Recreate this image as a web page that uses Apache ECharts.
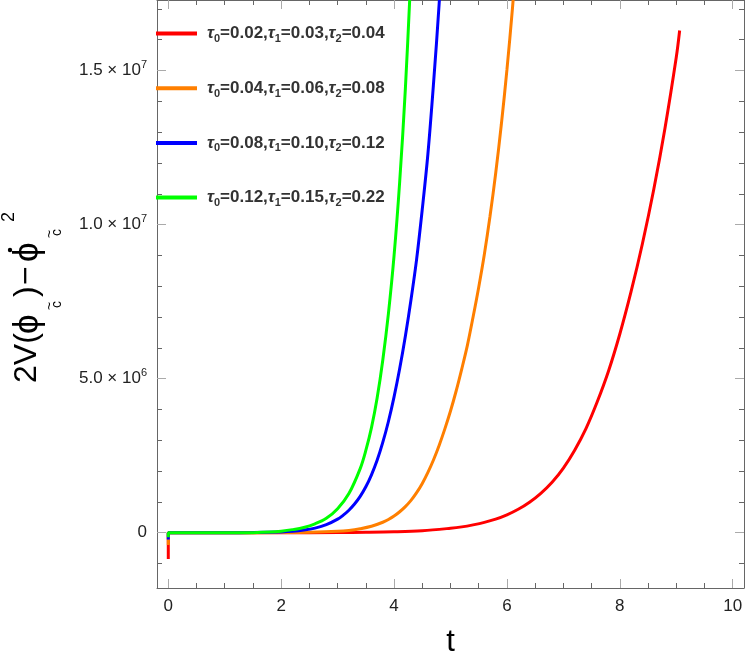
<!DOCTYPE html>
<html>
<head>
<meta charset="utf-8">
<script src="https://cdn.jsdelivr.net/npm/echarts@6/dist/echarts.min.js"></script>
<style>
html,body{margin:0;padding:0;background:#fff;}
#chart{width:747px;height:655px;}
</style>
</head>
<body>
<div id="chart"></div>
<script>
// ---------- data ----------
const tau0 = ['0.02', '0.04', '0.08', '0.12'];
const tau1 = ['0.03', '0.06', '0.10', '0.15'];
const tau2 = ['0.04', '0.08', '0.12', '0.22'];
const seriesColors = ['#ff0000', '#ff7f00', '#0000ff', '#00ff00'];

const redT = [0, 0, 0.02, 1, 2, 3, 3.5, 4, 4.5, 5, 5.2, 5.4, 5.6, 5.8, 6.0, 6.2, 6.4, 6.6, 6.8, 7.0, 7.2, 7.4, 7.6, 7.8, 8.0, 8.2, 8.4, 8.6, 8.8, 9.0, 9.06];
const redV = [-0.85e6, 0, 0, 0, 0.001e6, 0.006e6, 0.014e6, 0.03e6, 0.065e6, 0.145e6, 0.19e6, 0.255e6, 0.335e6, 0.44e6, 0.58e6, 0.76e6, 0.99e6, 1.28e6, 1.64e6, 2.1e6, 2.68e6, 3.38e6, 4.25e6, 5.25e6, 6.45e6, 7.83e6, 9.38e6, 11.13e6, 13.13e6, 15.43e6, 16.3e6];

const orangeT = [0, 0, 0.02, 1, 2, 2.5, 3, 3.2, 3.4, 3.6, 3.8, 3.9, 4.0, 4.1, 4.2, 4.3, 4.4, 4.5, 4.6, 4.7, 4.8, 4.9, 5.0, 5.1, 5.2, 5.3, 5.4, 5.5, 5.6, 5.7, 5.8, 5.9, 6.0, 6.1, 6.2];
const orangeV = [-0.4e6, 0, 0, 0, 0.004e6, 0.015e6, 0.045e6, 0.075e6, 0.13e6, 0.21e6, 0.34e6, 0.43e6, 0.54e6, 0.68e6, 0.846e6, 1.05e6, 1.3e6, 1.6e6, 1.96e6, 2.37e6, 2.84e6, 3.37e6, 3.95e6, 4.6e6, 5.32e6, 6.09e6, 7.0e6, 7.97e6, 9.04e6, 10.27e6, 11.66e6, 13.24e6, 15.03e6, 17.07e6, 19.4e6];

const blueT = [0, 0, 0.02, 1, 1.5, 2.0, 2.2, 2.4, 2.6, 2.8, 3.0, 3.1, 3.2, 3.3, 3.4, 3.5, 3.6, 3.7, 3.8, 3.9, 4.0, 4.1, 4.2, 4.3, 4.4, 4.5, 4.6, 4.7, 4.8, 4.9];
const blueV = [-0.22e6, 0, 0, 0, 0.005e6, 0.025e6, 0.045e6, 0.085e6, 0.15e6, 0.26e6, 0.44e6, 0.57e6, 0.73e6, 0.93e6, 1.18e6, 1.49e6, 1.88e6, 2.35e6, 2.93e6, 3.61e6, 4.41e6, 5.33e6, 6.38e6, 7.56e6, 8.88e6, 10.5e6, 12.3e6, 14.6e6, 17.2e6, 20.3e6];

const greenT = [0, 0, 0.02, 1, 1.5, 1.8, 2.0, 2.2, 2.4, 2.6, 2.8, 3.0, 3.2, 3.4, 3.5, 3.6, 3.7, 3.8, 3.9, 4.0, 4.1, 4.2, 4.3];
const greenV = [-0.15e6, 0, 0, 0, 0.003e6, 0.02e6, 0.05e6, 0.1e6, 0.17e6, 0.29e6, 0.47e6, 0.78e6, 1.27e6, 2.08e6, 2.67e6, 3.41e6, 4.37e6, 5.6e6, 7.11e6, 8.99e6, 11.4e6, 14.4e6, 18.2e6];

const xMajorTicks = [0, 2, 4, 6, 8, 10];
const xMinorTicks = [0.5, 1, 1.5, 2.5, 3, 3.5, 4.5, 5, 5.5, 6.5, 7, 7.5, 8.5, 9, 9.5];
const yMajorTicks = [0, 5e6, 1e7, 1.5e7];
const yMinorTicks = [-1e6, 1e6, 2e6, 3e6, 4e6, 6e6, 7e6, 8e6, 9e6, 11e6, 12e6, 13e6, 14e6, 16e6, 17e6];
const X_MIN = -0.2, X_MAX = 10.2;
const Y_MIN = -1.794e6, Y_MAX = 1.729e7;

// ---------- chart ----------
const FONT = '"Liberation Sans", Arial, "DejaVu Sans", sans-serif';
const zip = (a, b) => a.map((v, i) => [v, b[i]]);
const seriesT = [redT, orangeT, blueT, greenT];
const seriesV = [redV, orangeV, blueV, greenV];
const names = tau0.map((_, i) => 'τ0=' + tau0[i] + ',τ1=' + tau1[i] + ',τ2=' + tau2[i]);

function yLabel(v) {
  if (v === 0) return '{n|0}';
  const e = Math.floor(Math.log10(Math.abs(v)) + 1e-9);
  const m = (v / Math.pow(10, e)).toFixed(1);
  return '{n|' + m + ' × 10}{s|' + e + '}';
}

const frameColor = '#666';
const majorTickColor = '#aaa';
const minorTickColor = '#666';

function xAxisDef(pos, major, withLabel) {
  return {
    type: 'value', min: X_MIN, max: X_MAX, position: pos,
    axisLine: { show: major, onZero: false, lineStyle: { color: frameColor, width: 1 } },
    axisTick: { show: true, inside: true, length: major ? 9 : 5,
      customValues: major ? xMajorTicks : xMinorTicks,
      lineStyle: { color: major ? majorTickColor : minorTickColor, width: 1 } },
    axisLabel: withLabel ? { show: true, customValues: xMajorTicks, fontSize: 17, color: '#222',
      fontFamily: FONT, margin: 10 } : { show: false },
    splitLine: { show: false },
    name: withLabel ? 't' : '',
    nameLocation: 'middle', nameGap: 39,
    nameTextStyle: { fontSize: 31, color: '#000', fontFamily: FONT }
  };
}
function yAxisDef(pos, major, withLabel) {
  return {
    type: 'value', min: Y_MIN, max: Y_MAX, position: pos,
    axisLine: { show: major, onZero: false, lineStyle: { color: frameColor, width: 1 } },
    axisTick: { show: true, inside: true, length: major ? 9 : 5,
      customValues: major ? yMajorTicks : yMinorTicks,
      lineStyle: { color: major ? majorTickColor : minorTickColor, width: 1 } },
    axisLabel: withLabel ? { show: true, customValues: yMajorTicks, formatter: yLabel, margin: 10,
      rich: {
        n: { fontSize: 17, color: '#222', fontFamily: FONT, lineHeight: 22 },
        s: { fontSize: 11, color: '#222', fontFamily: FONT, lineHeight: 12, verticalAlign: 'top' }
      } } : { show: false },
    splitLine: { show: false }
  };
}

const legendRichBase = { fontSize: 17, fontWeight: 'bold', color: '#333', fontFamily: FONT, lineHeight: 22 };

const titleFont = (s) => 'normal ' + s + 'px ' + FONT;
function tx(text, lx, ly, size) {
  return { type: 'text', x: lx, y: ly,
    style: { text: text, font: titleFont(size), fill: '#000',
      textAlign: 'left', textVerticalAlign: 'middle', align: 'left', verticalAlign: 'middle' } };
}

const option = {
  animation: false,
  backgroundColor: '#fff',
  grid: { left: 157, right: 3, top: 0, bottom: 67, containLabel: false, outerBoundsMode: 'none' },
  xAxis: [xAxisDef('bottom', true, true), xAxisDef('bottom', false, false),
          xAxisDef('top', true, false), xAxisDef('top', false, false)],
  yAxis: [yAxisDef('left', true, true), yAxisDef('left', false, false),
          yAxisDef('right', true, false), yAxisDef('right', false, false)],
  legend: {
    orient: 'vertical', left: 156, top: 25, padding: 0,
    itemGap: 35.2, itemWidth: 41, itemHeight: 4, icon: 'rect',
    selectedMode: false,
    data: names,
    formatter: function (name) {
      const i = names.indexOf(name);
      return '{g|τ}{s|0}{a|=' + tau0[i] + ',}{g|τ}{s|1}{a|=' + tau1[i] + ',}{g|τ}{s|2}{a|=' + tau2[i] + '}';
    },
    textStyle: {
      padding: [0, 0, 0, 5],
      rich: {
        a: legendRichBase,
        g: Object.assign({}, legendRichBase, { fontStyle: 'italic' }),
        s: { fontSize: 11, fontWeight: 'bold', color: '#333', fontFamily: FONT, lineHeight: 12, verticalAlign: 'bottom' }
      }
    }
  },
  graphic: [{
    type: 'group', x: 0, y: 0, rotation: Math.PI / 2,
    children: [
      tx('2V(', -383, 27, 32),
      tx('ϕ', -334, 28, 35),
      tx('~', -310, 50, 14),
      tx('c', -308, 57, 14),
      tx(')', -297, 27, 32),
      tx('−', -285, 27, 32),
      tx('ϕ', -262, 28, 35),
      { type: 'circle', shape: { cx: -250, cy: 10, r: 2.2 }, style: { fill: '#000' } },
      tx('~', -238, 50, 14),
      tx('c', -236, 57, 14),
      tx('2', -222, 9, 18)
    ]
  }],
  series: seriesT.map((T, i) => ({
    name: names[i], type: 'line', xAxisIndex: 0, yAxisIndex: 0,
    data: zip(T, seriesV[i]), showSymbol: false, symbol: 'none',
    clip: true, smooth: 0.35,
    lineStyle: { color: seriesColors[i], width: 3 },
    itemStyle: { color: seriesColors[i] },
    emphasis: { disabled: true }
  }))
};

const chart = echarts.init(document.getElementById('chart'), null, { renderer: 'canvas' });
chart.setOption(option);
</script>
</body>
</html>
